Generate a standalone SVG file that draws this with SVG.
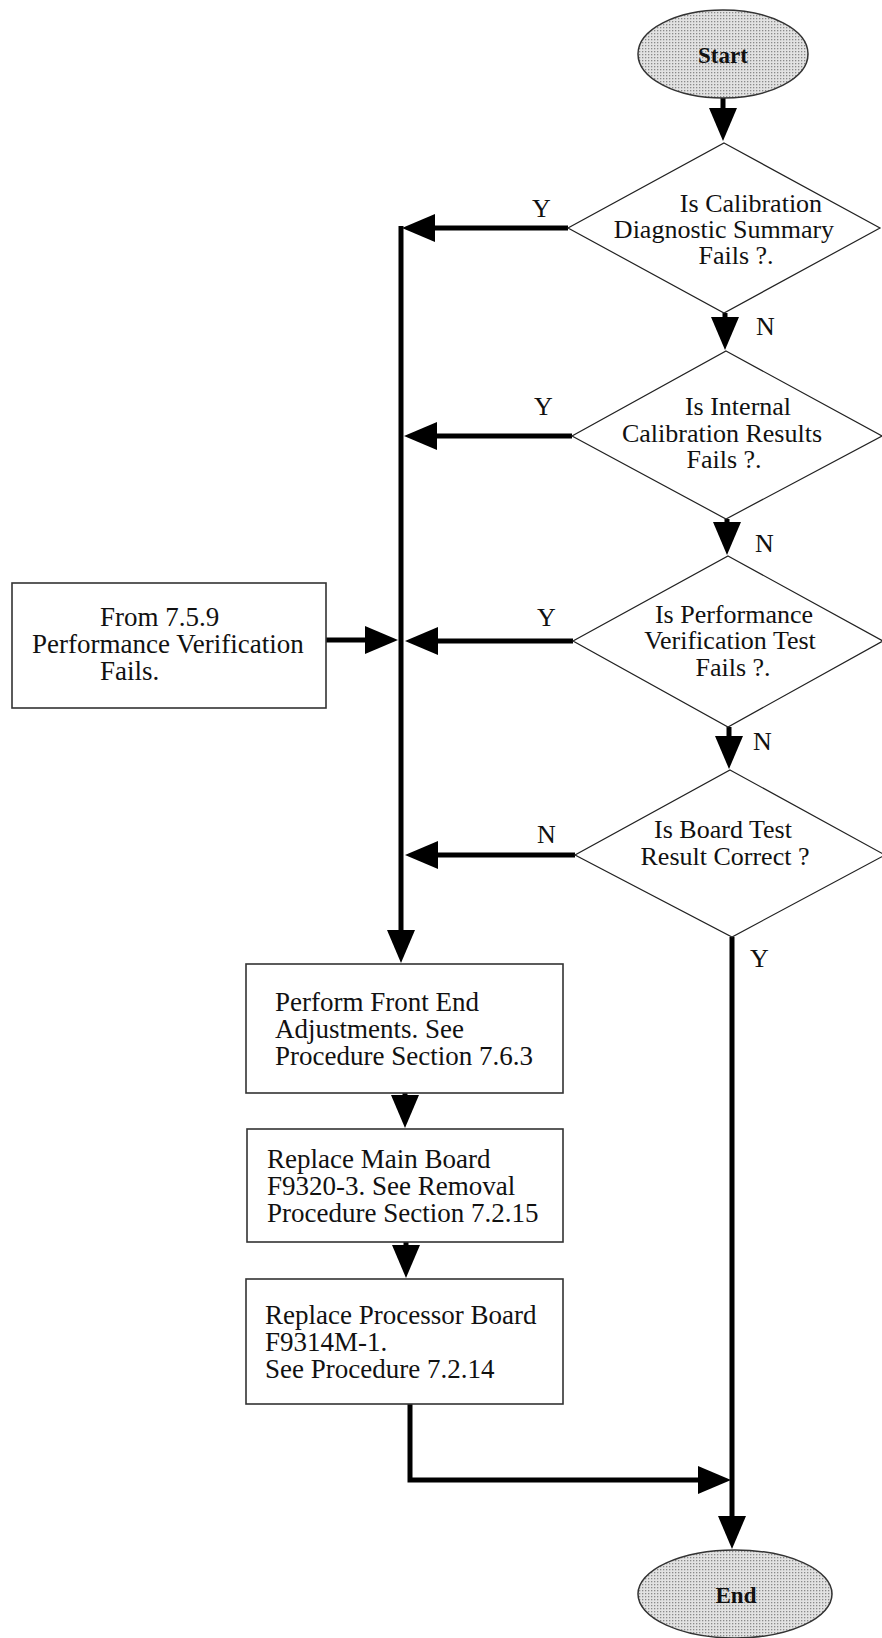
<svg xmlns="http://www.w3.org/2000/svg" width="882" height="1638" viewBox="0 0 882 1638">
<style>
.bg{fill:#ffffff}
.term{stroke:#333;stroke-width:1.5}
.dia{fill:#ffffff;stroke:#222;stroke-width:1.2}
.box{fill:#ffffff;stroke:#333;stroke-width:1.6}
.t{font-family:"Liberation Serif","Times New Roman",serif;fill:#111}
.dt{font-size:26px;text-anchor:middle}
.bt{font-size:27px}
.tt{font-size:23px;font-weight:bold;text-anchor:middle}
.lbl{font-size:26px}
.conn{fill:none;stroke:#000;stroke-width:5;stroke-linejoin:miter}
</style>
<defs>
<pattern id="dots" width="3" height="3" patternUnits="userSpaceOnUse">
<rect width="3" height="3" fill="#e2e2e2"/>
<rect width="1.3" height="1.3" fill="#8a8a8a"/>
</pattern>
<marker id="ah" markerUnits="userSpaceOnUse" markerWidth="36" markerHeight="30" refX="1" refY="14" orient="auto" overflow="visible">
<path d="M0,0 L33,14 L0,28 z" fill="#000"/>
</marker>
</defs>
<rect class="bg" width="882" height="1638"/>

<g id="connectors">
<path class="conn" d="M723,97 V109" marker-end="url(#ah)"/>
<path class="conn" d="M725,313 V318" marker-end="url(#ah)"/>
<path class="conn" d="M727,519 V523" marker-end="url(#ah)"/>
<path class="conn" d="M729,727 V737" marker-end="url(#ah)"/>
<path class="conn" d="M732,937 V1517" marker-end="url(#ah)"/>
<path class="conn" d="M568,228 H434" marker-end="url(#ah)"/>
<path class="conn" d="M572,436 H436" marker-end="url(#ah)"/>
<path class="conn" d="M573,641 H437" marker-end="url(#ah)"/>
<path class="conn" d="M575,855 H437" marker-end="url(#ah)"/>
<path class="conn" d="M326,640 H366" marker-end="url(#ah)"/>
<path class="conn" d="M401,226 V931" marker-end="url(#ah)"/>
<path class="conn" d="M405,1093 V1096" marker-end="url(#ah)"/>
<path class="conn" d="M406,1242 V1246" marker-end="url(#ah)"/>
<path class="conn" d="M410,1404 V1480 H699" marker-end="url(#ah)"/>
</g>

<g id="start">
<ellipse class="term" cx="723" cy="54" rx="85" ry="44" fill="url(#dots)"/>
<text class="t tt" x="723" y="63">Start</text>
</g>

<g id="d1">
<polygon class="dia" points="724,143 880,228 724,313 568,228"/>
<text class="t dt" x="751" y="212">Is Calibration</text>
<text class="t dt" x="724" y="238">Diagnostic Summary</text>
<text class="t dt" x="736" y="264">Fails ?.</text>
</g>

<g id="d2">
<polygon class="dia" points="726,351 882,436 726,519 572,436"/>
<text class="t dt" x="738" y="415">Is Internal</text>
<text class="t dt" x="722" y="442">Calibration Results</text>
<text class="t dt" x="724" y="468">Fails ?.</text>
</g>

<g id="d3">
<polygon class="dia" points="728,556 883,641 728,727 573,641"/>
<text class="t dt" x="734" y="623">Is Performance</text>
<text class="t dt" x="730" y="649">Verification Test</text>
<text class="t dt" x="733" y="676">Fails ?.</text>
</g>

<g id="d4">
<polygon class="dia" points="730,770 885,855 732,937 575,855"/>
<text class="t dt" x="723" y="838">Is Board Test</text>
<text class="t dt" x="725" y="865">Result Correct ?</text>
</g>

<g id="from">
<rect class="box" x="12" y="583" width="314" height="125"/>
<text class="t bt" x="100" y="626">From 7.5.9</text>
<text class="t bt" x="32" y="653">Performance Verification</text>
<text class="t bt" x="100" y="680">Fails.</text>
</g>

<g id="box1">
<rect class="box" x="246" y="964" width="317" height="129"/>
<text class="t bt" x="275" y="1011">Perform Front End</text>
<text class="t bt" x="275" y="1038">Adjustments. See</text>
<text class="t bt" x="275" y="1065">Procedure Section 7.6.3</text>
</g>

<g id="box2">
<rect class="box" x="247" y="1129" width="316" height="113"/>
<text class="t bt" x="267" y="1168">Replace Main Board</text>
<text class="t bt" x="267" y="1195">F9320-3. See Removal</text>
<text class="t bt" x="267" y="1222">Procedure Section 7.2.15</text>
</g>

<g id="box3">
<rect class="box" x="246" y="1279" width="317" height="125"/>
<text class="t bt" x="265" y="1324">Replace Processor Board</text>
<text class="t bt" x="265" y="1351">F9314M-1.</text>
<text class="t bt" x="265" y="1378">See Procedure 7.2.14</text>
</g>

<g id="end">
<ellipse class="term" cx="735" cy="1594" rx="97" ry="44" fill="url(#dots)"/>
<text class="t tt" x="736" y="1603">End</text>
</g>

<g id="labels">
<text class="t lbl" x="532" y="217">Y</text>
<text class="t lbl" x="534" y="415">Y</text>
<text class="t lbl" x="537" y="626">Y</text>
<text class="t lbl" x="537" y="843">N</text>
<text class="t lbl" x="756" y="335">N</text>
<text class="t lbl" x="755" y="552">N</text>
<text class="t lbl" x="753" y="750">N</text>
<text class="t lbl" x="750" y="967">Y</text>
</g>
</svg>
